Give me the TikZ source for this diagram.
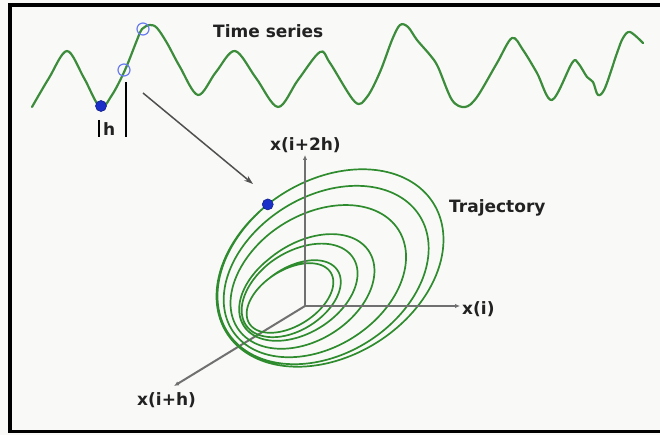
\documentclass[tikz,border=0pt]{standalone}
\usepackage{fontspec}
\setmainfont{DejaVu Sans}
\usetikzlibrary{arrows.meta}
\definecolor{bg}{HTML}{F9FAF7}
\definecolor{series}{HTML}{3C8C3C}
\definecolor{traj}{HTML}{2E8B2E}
\definecolor{axisgray}{HTML}{707070}
\definecolor{arrowgray}{HTML}{505050}
\definecolor{dotblue}{HTML}{1A2FC8}
\definecolor{ringblue}{HTML}{6B7CF0}
\definecolor{txt}{HTML}{222222}
\tikzset{
  lbl/.style={anchor=base west, inner sep=0pt, text=txt, font=\fontsize{17}{20}\selectfont\bfseries},
  seriesline/.style={series, line width=2.2pt, line join=round, line cap=round},
  trajline/.style={traj, line width=1.7pt},
  axisline/.style={axisgray, line width=2pt, -{Latex[length=5pt,width=4.5pt]}},
  filleddot/.style={circle, fill=dotblue, draw=dotblue!70!black, line width=0.6pt, minimum size=11pt, inner sep=0pt},
  ringdot/.style={circle, draw=ringblue, line width=1.2pt, minimum size=12pt, inner sep=0pt},
  hbar/.style={black, line width=1.3pt},
  declare function={
    nn(\t)=(\t-99)/360;
    uu(\t)=(nn(\t)<0) ? 0 : ((nn(\t)<2) ? 0.205*nn(\t) : ((nn(\t)<3) ? 0.41+0.33*(nn(\t)-2) : ((nn(\t)<4) ? 0.74+0.06*(nn(\t)-3) : min(1,0.8+0.2*(nn(\t)-4)))));
    sx(\t)=330-40*uu(\t) + (122-74*uu(\t))*cos(\t)*cos(32) - (88-60*uu(\t))*sin(\t)*sin(32);
    sy(\t)=268+30*uu(\t) - (122-74*uu(\t))*cos(\t)*sin(32) - (88-60*uu(\t))*sin(\t)*cos(32);
  }
}
\begin{document}
\begin{tikzpicture}[x=1pt,y=-1pt]
\useasboundingbox (0,0) rectangle (660,435);
\fill[bg] (0,0) rectangle (660,435);
% frame
\draw[black, line width=3.5pt] (662,5) -- (10,5) -- (10,431.5) -- (662,431.5);

% time series
\draw[seriesline] plot[smooth, tension=0.55] coordinates {
 (32,107) (49,78) (67,51) (84,78) (100,107) (112,95) (125,70) (137,40) (142,29)
 (150,25) (157,28) (167,43) (180,67) (198,95) (216,72) (235,51) (256,78) (278,107)
 (298,80) (320,52) (330,63) (355,102) (367,97) (380,72) (392,40) (400,25) (408,27)
 (417,40) (430,55) (438,67) (452,100) (465,107) (477,97) (497,63) (512,38) (523,50)
 (537,73) (552,100) (572,63) (578,63) (587,77) (593,82) (598,95) (605,88) (617,53)
 (623,38) (630,32) (643,43)};
\node[filleddot] (p0) at (101,106) {};
\node[ringdot] (p1) at (124,70) {};
\node[ringdot] (p2) at (143,29) {};

% h marker
\coordinate (hl1) at (99,120);
\coordinate (hl2) at (99,137);
\coordinate (hr1) at (126,82);
\coordinate (hr2) at (126,137);
\draw[hbar] (hl1) -- (hl2);
\draw[hbar] (hr1) -- (hr2);
\node[lbl] (hlab) at (103,136) {h};

\node[lbl] (tslab) at (213,38) {Time series};

% axes
\coordinate (O) at (305,306);
\coordinate (Zend) at (174,386);
\coordinate (Yend) at (305,155);
\coordinate (Xend) at (460,306);
\draw[axisline] (O) -- (Zend);

% trajectory spiral
\draw[trajline] plot[domain=-261:2259, samples=1200, variable=\t] ({sx(\t)},{sy(\t)});

\draw[axisline] (O) -- (Yend);
\draw[axisline] (O) -- (Xend);

\node[filleddot] (q) at ({sx(99)},{sy(99)}) {};

% arrow from series to trajectory
\coordinate (arrS) at (143,93);
\coordinate (arrE) at (253,184);
\draw[arrowgray, line width=1.5pt, -{Stealth[length=9pt,width=6pt]}] (arrS) -- (arrE);

% labels
\node[lbl] (ylab) at (270,151) {x(i+2h)};
\node[lbl] (xlab) at (462,314) {x(i)};
\node[lbl] (zlab) at (137,405) {x(i+h)};
\node[lbl] (trlab) at (449,213) {Trajectory};
\end{tikzpicture}
\end{document}
